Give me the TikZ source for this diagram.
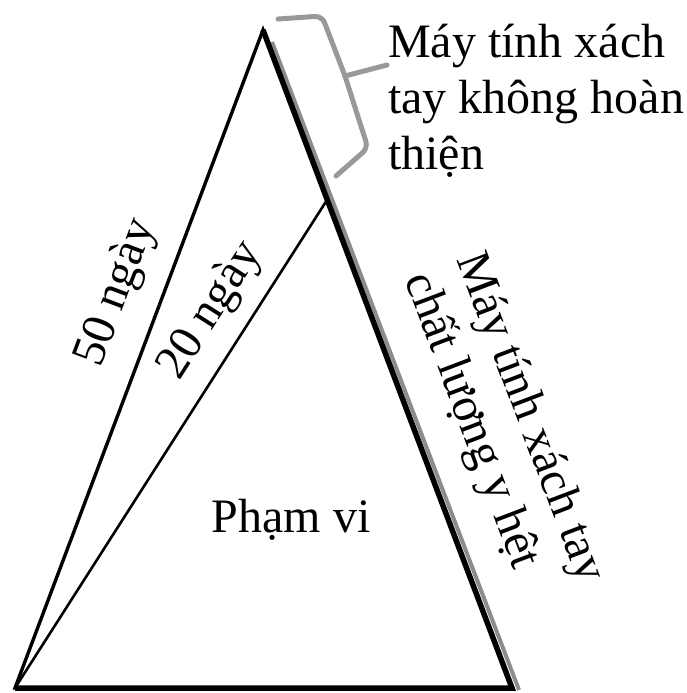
\documentclass[tikz,border=0pt]{standalone}
\usepackage{fontspec}
\setmainfont{Liberation Serif}

\begin{document}
\begin{tikzpicture}[
    x=1pt, y=-1pt,
    side/.style={line width=3.4pt, line join=miter},
    thickside/.style={line width=5.5pt, line join=miter},
    inner/.style={line width=2.6pt},
    shade/.style={line width=4pt, draw=black!45},
    brace/.style={line width=5pt, draw=black!40, rounded corners=7pt, line cap=round},
    label/.style={font=\fontsize{48}{56}\selectfont, inner sep=0pt}
]
\useasboundingbox (0,0) rectangle (686,693);

\coordinate (apex) at (263,30);
\coordinate (bl) at (15,688);
\coordinate (br) at (512,688);
\coordinate (mid) at (327,200);

% grey edge along the right side
\draw[shade] (272,42) -- (519,690);

\draw[side] (bl) -- (apex) -- (br) -- cycle;
\draw[thickside] (apex) -- (br) -- (bl);
\draw[inner] (bl) -- (mid);

% brace
\coordinate (bracetop) at (278,19);
\coordinate (bracejoin) at (345,76);
\coordinate (bracetip) at (387,65);
\coordinate (braceend) at (336,176);
\draw[brace] (bracetop) -- (322,16) -- (bracejoin) -- (368,148) -- (braceend);
\draw[brace, rounded corners=0pt] (bracejoin) -- (bracetip);

\node[label, align=left, anchor=north west] (partial) at (388,24)
    {Máy tính xách\\tay không hoàn\\thiện};
\node[label, rotate=69.35] (days50) at (117,293) {50 ngày};
\node[label, rotate=57.4] (days20) at (211,311) {20 ngày};
\node[label, rotate=-69.27, align=left] (same) at (503,428)
    {Máy tính xách tay\\chất lượng y hệt};
\node[label] (scope) at (291,520) {Phạm vi};

\end{tikzpicture}
\end{document}
